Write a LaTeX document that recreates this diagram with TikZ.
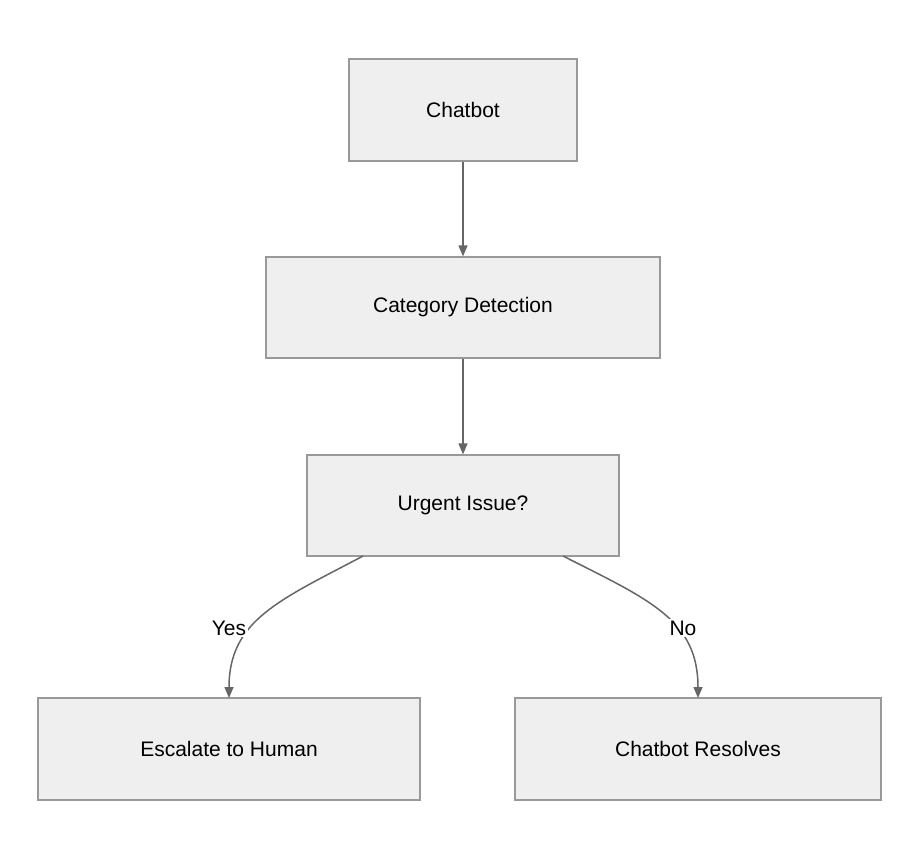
\documentclass[tikz,border=0pt]{standalone}
\usepackage{fontspec}
\setmainfont{Liberation Sans}
\usetikzlibrary{arrows.meta}
\definecolor{boxfill}{HTML}{EFEFEF}
\definecolor{boxline}{HTML}{999999}
\definecolor{arr}{HTML}{666666}
\begin{document}
\begin{tikzpicture}[x=1pt,y=-1pt,
  box/.style={draw=boxline,fill=boxfill,line width=1.2pt,inner sep=0pt,font=\fontsize{21}{25}\selectfont},
  conn/.style={draw=arr,line width=1.5pt,-{Triangle[length=11pt,width=9pt]}},
  lab/.style={fill=white,inner sep=2pt,font=\fontsize{21}{25}\selectfont}]
\useasboundingbox (0,0) rectangle (918,860);
\node[box,minimum width=228pt,minimum height=102pt] (a) at (463,110) {Chatbot};
\node[box,minimum width=394pt,minimum height=101pt] (b) at (463,307.5) {Category Detection};
\node[box,minimum width=312pt,minimum height=101pt] (c) at (463,505.5) {Urgent Issue?};
\node[box,minimum width=382pt,minimum height=102pt] (d) at (229,749) {Escalate to Human};
\node[box,minimum width=366pt,minimum height=102pt] (e) at (698,749) {Chatbot Resolves};
\coordinate (cl) at (363,556);
\coordinate (cr) at (563,556);
\draw[conn] (a) -- (b);
\draw[conn] (b) -- (c);
\draw[conn] (cl) .. controls (280,600) and (229,620) .. (229,698);
\draw[conn] (cr) .. controls (650,600) and (698,620) .. (698,698);
\node[lab] (y) at (229,628) {Yes};
\node[lab] (n) at (683,628) {No};
\end{tikzpicture}
\end{document}
